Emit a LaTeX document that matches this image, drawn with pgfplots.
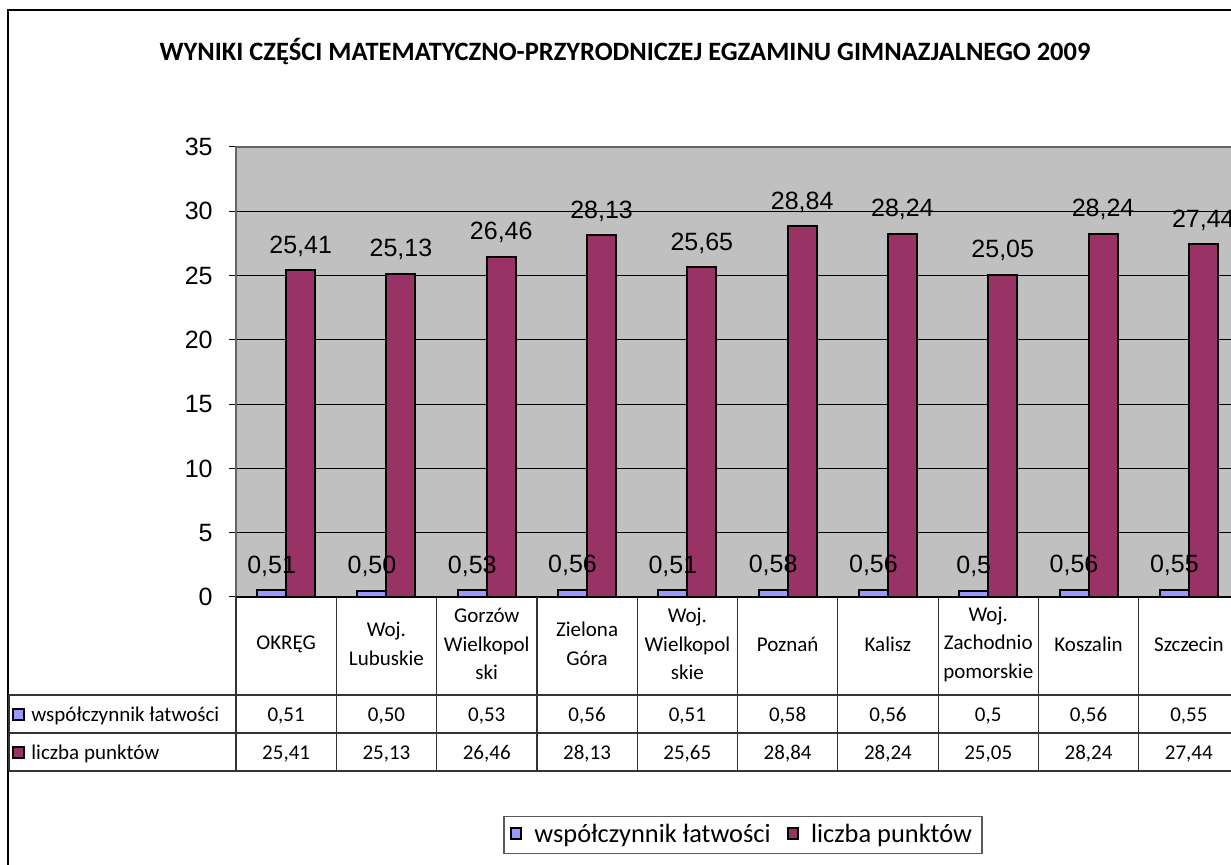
\documentclass[border=0pt]{standalone}
\usepackage{fontspec}
\setmainfont{Carlito}
\newfontfamily\arial{Liberation Sans}
\usepackage{pgfplots}
\usepackage{pgfplotstable}
\pgfplotsset{compat=1.18}
\definecolor{wsp}{HTML}{9999FF}
\definecolor{pkt}{HTML}{993366}
\definecolor{plotbg}{HTML}{C0C0C0}

% x, współczynnik łatwości, liczba punktów (labels as printed)
\pgfplotstableread{
x wsp wsplab pkt pktlab
0 0.51 0,51 25.41 25,41
1 0.50 0,50 25.13 25,13
2 0.53 0,53 26.46 26,46
3 0.56 0,56 28.13 28,13
4 0.51 0,51 25.65 25,65
5 0.58 0,58 28.84 28,84
6 0.56 0,56 28.24 28,24
7 0.5  0,5  25.05 25,05
8 0.56 0,56 28.24 28,24
9 0.55 0,55 27.44 27,44
}\datatab

\newcommand{\lblfont}{\arial\fontsize{12.5}{15}\selectfont}
\newcommand{\tabfont}{\fontsize{10.5}{14.25}\selectfont}

\begin{document}
\begin{tikzpicture}[x=0.5pt,y=0.5pt]
\begin{axis}[
  set layers,
  scale only axis,
  width=501.5pt, height=225pt,
  xmin=-0.5, xmax=9.5, ymin=0, ymax=35,
  ybar=0pt, bar width=14.5pt,
  clip=false,
  ytick={0,5,...,35},
  ytick pos=left,
  tick align=outside,
  major tick length=3.5pt,
  ytick style={black, line width=0.5pt},
  xtick={0,...,9},
  x tick style={draw=none},
  xticklabels={OKRĘG,{Woj.\\Lubuskie},{Gorzów\\Wielkopol\\ski},{Zielona\\Góra},
    {Woj.\\Wielkopol\\skie},Poznań,Kalisz,{Woj.\\Zachodnio\\pomorskie},Koszalin,Szczecin},
  xticklabel style={align=center, anchor=center, font=\tabfont, yshift=-20pt},
  /pgf/number format/assume math mode=true,
  yticklabel style={font=\lblfont, inner sep=0pt, xshift=-8pt},
  ymajorgrids,
  grid style={black, line width=0.5pt},
  axis background/.style={fill=plotbg},
  axis line style={draw=gray!80!black, line width=1pt},
  legend style={at={(0.5055,-0.529)}, anchor=center, legend columns=2,
    draw=gray!70!black, line width=0.6pt, font=\fontsize{13.2}{16}\selectfont,
    inner xsep=3pt, inner ysep=2pt,
    /tikz/every odd column/.append style={column sep=4pt},
    /tikz/every even column/.append style={column sep=6pt}},
  legend image code/.code={\draw[#1, line width=1.2pt] (0.5pt,-2pt) rectangle (5.5pt,3.5pt);},
]
\addplot[on layer=pre main, fill=wsp, draw=black, line width=1pt,
  nodes near coords, point meta=explicit symbolic,
  nodes near coords style={font=\lblfont, anchor=base, inner sep=0pt, yshift=8.5pt, text=black}]
  table[x=x, y=wsp, meta=wsplab]{\datatab};
\addplot[fill=pkt, draw=black, line width=1pt,
  nodes near coords, point meta=explicit symbolic,
  nodes near coords style={font=\lblfont, anchor=base, inner sep=0pt, yshift=8.5pt, text=black}]
  table[x=x, y=pkt, meta=pktlab]{\datatab};
\legend{współczynnik łatwości, liczba punktów}
% values of the data table under the categories
\addplot[forget plot, bar shift=0pt, draw=none, fill=none,
  nodes near coords, point meta=explicit symbolic,
  nodes near coords style={font=\tabfont, anchor=base, inner sep=0pt, yshift=-62.25pt, text=black}]
  table[x=x, y expr=0, meta=wsplab]{\datatab};
\addplot[forget plot, bar shift=0pt, draw=none, fill=none,
  nodes near coords, point meta=explicit symbolic,
  nodes near coords style={font=\tabfont, anchor=base, inner sep=0pt, yshift=-81.25pt, text=black}]
  table[x=x, y expr=0, meta=pktlab]{\datatab};
\coordinate (O) at (rel axis cs:0,0);
\end{axis}

\begin{scope}[shift={(O)}]
\begin{scope}[shift={(-236,-268)}]
% chart frame and title
\draw[black, line width=0.8pt] (8,-20) -- (8,855) -- (1300,855);
\node[font=\bfseries\fontsize{13.25}{16}\selectfont] at (625,813)
  {WYNIKI CZĘŚCI MATEMATYCZNO-PRZYRODNICZEJ EGZAMINU GIMNAZJALNEGO 2009};
% data table grid
\draw[black, line width=0.6pt] (236,268) -- (1300,268);
\foreach \yy in {170,132,94} \draw[gray!40!black, line width=0.6pt] (9,\yy) -- (1300,\yy);
\draw[gray!40!black, line width=0.6pt] (9,170) -- (9,94);
\foreach \k in {0,...,10} \draw[gray!40!black, line width=0.6pt] (236+100.3*\k,268) -- (236+100.3*\k,94);
% row keys
\draw[fill=wsp, line width=1pt] (13,145) rectangle (24,156);
\draw[fill=pkt, line width=1pt] (13,107) rectangle (24,118);
\node[font=\tabfont, anchor=base west, inner sep=0pt] at (31,143.5) {współczynnik łatwości};
\node[font=\tabfont, anchor=base west, inner sep=0pt] at (31,105.5) {liczba punktów};
\pgfresetboundingbox
\path[use as bounding box] (0,0) rectangle (1231,865);
\end{scope}
\end{scope}
\end{tikzpicture}
\end{document}
